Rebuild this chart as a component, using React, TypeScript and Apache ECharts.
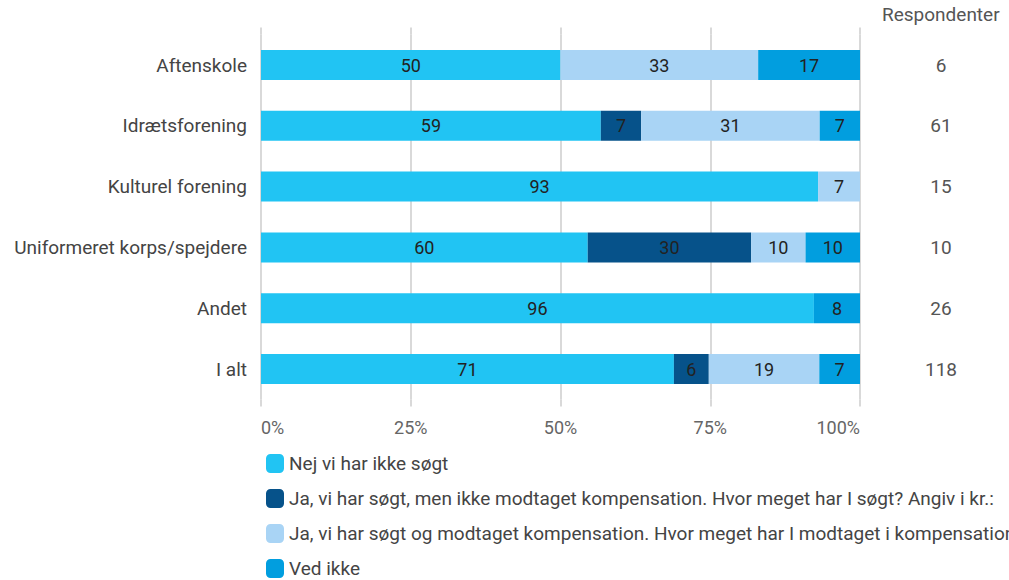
import React, { useEffect, useRef } from "react";
import * as echarts from "echarts";

const categories = ["Aftenskole", "Idrætsforening", "Kulturel forening", "Uniformeret korps/spejdere", "Andet", "I alt"];
const seriesNames = [
  "Nej vi har ikke søgt",
  "Ja, vi har søgt, men ikke modtaget kompensation. Hvor meget har I søgt? Angiv i kr.:",
  "Ja, vi har søgt og modtaget kompensation. Hvor meget har I modtaget i kompensation? Angiv i kr.:",
  "Ved ikke",
];
const nejValues = [50, 59, 93, 60, 96, 71];
const jaIkkeValues = [null, 7, null, 30, null, 6];
const jaModtagetValues = [33, 31, 7, 10, null, 19];
const vedIkkeValues = [17, 7, null, 10, 8, 7];
const respondents = [6, 61, 15, 10, 26, 118];
const xTicks = [0, 25, 50, 75, 100];
const colors = ["#21C4F3", "#06528A", "#A9D4F5", "#019EDF"];

const FONT = "Roboto, 'Noto Sans', sans-serif";

export default function App() {
  const ref = useRef<HTMLDivElement>(null);
  useEffect(() => {
    if (!ref.current) return;
    const chart = echarts.init(ref.current, null, { renderer: "svg" });
    const all = [nejValues, jaIkkeValues, jaModtagetValues, vedIkkeValues];
    const rowSums = categories.map((_, i) => all.reduce((s, arr) => s + (arr[i] ?? 0), 0));
    const series = all.map((arr, si) => ({
      name: seriesNames[si],
      type: "bar",
      stack: "total",
      barWidth: 30,
      itemStyle: { color: colors[si] },
      label: {
        show: true,
        position: "inside",
        color: "#222",
        fontSize: 18,
        fontFamily: FONT,
        formatter: (p: any) => (arr[p.dataIndex] == null ? "" : String(arr[p.dataIndex])),
      },
      data: arr.map((v, i) => (v == null ? null : (v / rowSums[i]) * 100)),
    }));
    chart.setOption({
      animation: false,
      textStyle: { fontFamily: FONT },
      grid: { left: 261, right: 149, top: 34.6, bottom: 180.6 },
      legend: {
        orient: "vertical",
        left: 261,
        top: 449,
        height: 140,
        itemWidth: 18,
        itemHeight: 19,
        itemGap: 16,
        icon: "roundRect",
        textStyle: { fontSize: 19, color: "#444", fontFamily: FONT },
        data: seriesNames,
      },
      graphic: [
        {
          type: "text",
          left: 882,
          top: 5,
          style: { text: "Respondenter", fontSize: 19, fill: "#555", fontFamily: FONT },
        },
      ],
      xAxis: [
        {
          type: "value",
          min: xTicks[0],
          max: xTicks[xTicks.length - 1],
          interval: 25,
          axisLine: { show: false },
          axisTick: { show: true, length: 7, lineStyle: { color: "#ccc", width: 1.5 } },
          splitLine: { show: true, lineStyle: { color: "#ccc", width: 1.5 } },
          axisLabel: {
            formatter: "{value}%",
            fontSize: 18,
            color: "#666",
            margin: 19,
            alignMinLabel: "left",
            alignMaxLabel: "right",
            fontFamily: FONT,
          },
        },
        {
          type: "value",
          position: "top",
          min: xTicks[0],
          max: xTicks[xTicks.length - 1],
          interval: 25,
          axisLine: { show: false },
          axisTick: { show: true, length: 7, lineStyle: { color: "#ccc", width: 1.5 } },
          splitLine: { show: false },
          axisLabel: { show: false },
        },
      ],
      yAxis: [
        {
          type: "category",
          inverse: true,
          data: categories,
          axisLine: { show: false },
          axisTick: { show: false },
          axisLabel: { fontSize: 19, color: "#444", margin: 14, fontFamily: FONT },
        },
        {
          type: "category",
          inverse: true,
          position: "right",
          data: respondents.map(String),
          axisLine: { show: false },
          axisTick: { show: false },
          axisLabel: { fontSize: 19, color: "#555", margin: 81, align: "center", fontFamily: FONT },
        },
      ],
      series,
    });
    return () => chart.dispose();
  }, []);
  return <div ref={ref} style={{ width: 1009, height: 580, position: "absolute", left: 0, top: 0 }} />;
}
